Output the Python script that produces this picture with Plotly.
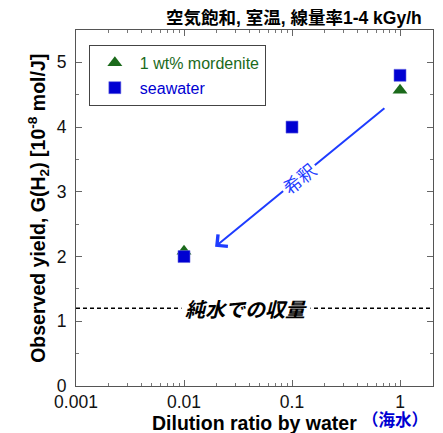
import math
import plotly.graph_objects as go

# Dilution ratio (1 = undiluted seawater) and measured H2 yields, 10^-8 mol/J
dilution_seawater = [0.01, 0.1, 1.0]
yield_seawater = [2.00, 4.00, 4.80]
dilution_mordenite = [0.01, 1.0]
yield_mordenite = [2.08, 4.57]
pure_water_yield = 1.20

x_ticks = [0.001, 0.01, 0.1, 1]
x_tick_labels = ["0.001", "0.01", "0.1", "1"]
y_ticks = [0, 1, 2, 3, 4, 5]

GREEN = "#1b6a1b"
BLUE = "#0000d2"
ARROW_BLUE = "#1e3cff"
LATIN = "Liberation Sans, Arial, Noto Sans CJK JP"
CJK = "Noto Sans CJK JP, Liberation Sans"

fig = go.Figure()

# pure-water reference level
fig.add_trace(go.Scatter(
    x=[0.001, 2.02], y=[pure_water_yield, pure_water_yield], mode="lines",
    line=dict(color="black", width=1.5, dash="4px,3px"),
    showlegend=False, hoverinfo="skip",
))

fig.add_trace(go.Scatter(
    x=dilution_mordenite, y=yield_mordenite, mode="markers",
    marker=dict(symbol="triangle-up", size=13, color=GREEN),
    name=f"<span style='color:{GREEN}'>1 wt% mordenite</span>",
    legendgroup="a",
))
fig.add_trace(go.Scatter(
    x=dilution_seawater, y=yield_seawater, mode="markers",
    marker=dict(symbol="square", size=12, color=BLUE,
                line=dict(color="#6a6ae0", width=0.6)),
    name=f"<span style='color:{BLUE}'>seawater</span>",
    legendgroup="b",
))

axis_common = dict(
    showline=True, linecolor="#555555", linewidth=1.2, mirror="allticks",
    ticks="inside", ticklen=6, tickcolor="#666666", tickwidth=1,
    showgrid=False, zeroline=False,
    tickfont=dict(family=LATIN, size=17.5, color="#111111"),
)

fig.update_xaxes(
    type="log", range=[-3, math.log10(2.02)],
    tickvals=x_ticks, ticktext=x_tick_labels,
    minor=dict(ticks="inside", ticklen=3, tickcolor="#777777",
               dtick="D1", showgrid=False),
    **axis_common,
)
fig.update_yaxes(
    range=[0, 5.5], tickvals=y_ticks, ticklabelstandoff=5,
    minor=dict(ticks="inside", ticklen=3, tickcolor="#777777",
               dtick=0.5, showgrid=False),
    **axis_common,
)

# dilution arrow, drawn in log10 x units
arrow_tip = (math.log10(0.0194), 2.15)
arrow_tail = (math.log10(0.74), 4.31)

annotations = [
    dict(x=arrow_tip[0], y=arrow_tip[1], ax=arrow_tail[0], ay=arrow_tail[1],
         xref="x", yref="y", axref="x", ayref="y", text="",
         showarrow=True, arrowhead=4, arrowsize=1.5, arrowwidth=2,
         arrowcolor=ARROW_BLUE),
    dict(x=math.log10(0.116), y=3.21, xref="x", yref="y", text="希釈",
         showarrow=False, textangle=-39.5, bgcolor="white", borderpad=2,
         font=dict(family=CJK, size=18, color=ARROW_BLUE)),
    dict(x=math.log10(0.0375), y=pure_water_yield, xref="x", yref="y",
         text="<b><i>純水での収量</i></b>", showarrow=False,
         bgcolor="white", borderpad=3,
         font=dict(family=CJK, size=20, color="black")),
    dict(x=0.975, y=1.034, xref="paper", yref="paper", xanchor="right",
         yanchor="middle", showarrow=False,
         text="<b>空気飽和, 室温, 線量率1-4 kGy/h</b>",
         font=dict(family="Liberation Sans, Noto Sans CJK JP", size=17.5,
                   color="black")),
    dict(x=0.501, y=-0.103, xref="paper", yref="paper", xanchor="center",
         yanchor="middle", showarrow=False,
         text="<b>Dilution ratio by water</b>",
         font=dict(family=LATIN, size=19.5, color="black")),
    dict(x=0.894, y=-0.092, xref="paper", yref="paper", xanchor="center",
         yanchor="middle", showarrow=False, text="<b>（海水）</b>",
         font=dict(family=CJK, size=16.5, color=BLUE)),
    dict(x=-0.107, y=0.5, xref="paper", yref="paper", xanchor="center",
         yanchor="middle", showarrow=False, textangle=-90,
         text="<b>Observed yield, G(H<sub>2</sub>) [10<sup>-8</sup> mol/J]</b>",
         font=dict(family=LATIN, size=19.5, color="black")),
]

fig.update_layout(
    width=443, height=433,
    margin=dict(l=76, r=10, t=30, b=47),
    paper_bgcolor="white", plot_bgcolor="white",
    annotations=annotations,
    legend=dict(
        x=0.036, y=0.958, xanchor="left", yanchor="top",
        bgcolor="white", bordercolor="#444444", borderwidth=1,
        font=dict(family=LATIN, size=16),
        traceorder="grouped", tracegroupgap=1,
        itemwidth=40,
    ),
    showlegend=True,
)

fig.write_html("out.html")
